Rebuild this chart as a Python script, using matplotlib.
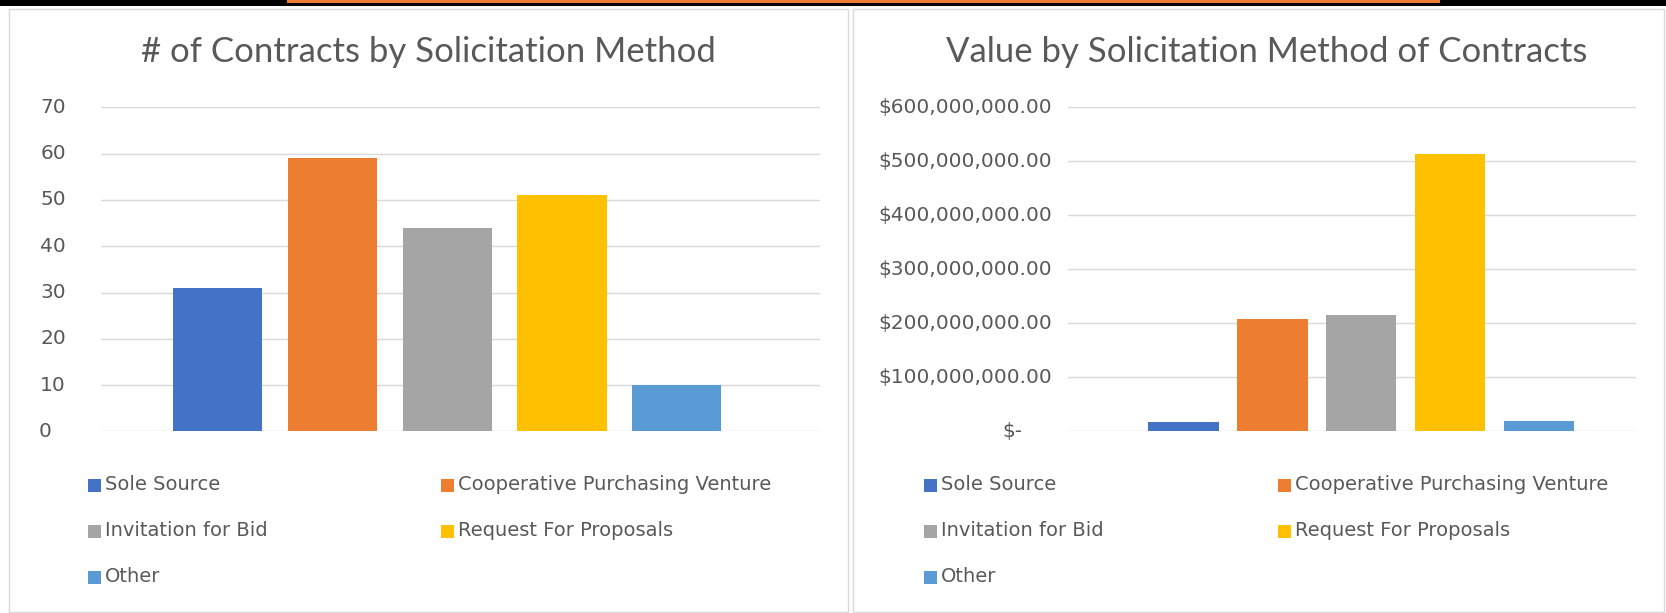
import matplotlib.pyplot as plt
from matplotlib.patches import Rectangle

# solicitation methods, shared by both charts
methods = ["Sole Source", "Cooperative Purchasing Venture", "Invitation for Bid",
           "Request For Proposals", "Other"]
contract_counts = [31, 59, 44, 51, 10]
contract_values = [17_500_000, 208_000_000, 216_000_000, 513_000_000, 19_500_000]
count_ticks = [0, 10, 20, 30, 40, 50, 60, 70]
value_ticks = [0, 100_000_000, 200_000_000, 300_000_000, 400_000_000, 500_000_000, 600_000_000]
colors = ["#4472C4", "#ED7D31", "#A5A5A5", "#FFC000", "#5B9BD5"]

W, H = 1666, 613
TEXT = "#595959"
GRID = "#D9D9D9"
TITLE_FONT = ["Lato", "DejaVu Sans"]
BODY_FONT = ["DejaVu Sans"]
plt.rcParams['font.family'] = BODY_FONT

AX_TOP, AX_BOTTOM = 107.3, 431.4


def fx(px):
    return px / W


def fy(py):
    return 1 - py / H


def fmt_money(v):
    if v == 0:
        return "$-"
    return f"${v:,.2f}"


fig = plt.figure(figsize=(W / 100, H / 100), dpi=100)

# top strip and panel borders
fig.add_artist(Rectangle((0, fy(6)), 1, 6 / H, transform=fig.transFigure,
                         color="black", lw=0))
fig.add_artist(Rectangle((fx(287), fy(2.5)), fx(1440 - 287), 2.5 / H,
                         transform=fig.transFigure, color="#ED7D31", lw=0))
for x0, x1 in [(8.5, 848), (853, 1664)]:
    fig.add_artist(Rectangle((fx(x0), fy(612)), fx(x1 - x0), (612 - 9) / H,
                             transform=fig.transFigure, fill=False,
                             edgecolor=GRID, lw=1))


def bar_panel(left, right, values, ticks, xlim, width, title, title_x,
              labels, label_right, zero_right, legend_x):
    ax = fig.add_axes([fx(left), fy(AX_BOTTOM), fx(right - left),
                       (AX_BOTTOM - AX_TOP) / H])
    xs = list(range(len(values)))
    ax.bar(xs, values, width=width, color=colors, zorder=3)
    ax.set_xlim(*xlim)
    ax.set_ylim(ticks[0], ticks[-1])
    for t in ticks:
        ax.axhline(t, color=GRID, lw=1, zorder=1)
    for s in ax.spines.values():
        s.set_visible(False)
    ax.set_xticks([])
    ax.set_yticks([])

    # y labels as figure text so the "$-" label can sit further left
    span = ticks[-1] - ticks[0]
    for t, lab in zip(ticks, labels):
        xr = zero_right if t == 0 else label_right
        ypx = AX_BOTTOM - (t - ticks[0]) / span * (AX_BOTTOM - AX_TOP)
        fig.text(fx(xr), fy(ypx), lab, ha="right", va="center",
                 fontsize=14.5, color=TEXT)

    fig.text(fx(title_x), fy(52), title, ha="center", va="center",
             fontsize=25, color=TEXT, family=TITLE_FONT)

    # legend, row-first in two columns
    rows = [485, 531, 577]
    for i, (m, c) in enumerate(zip(methods, colors)):
        r, col = divmod(i, 2)
        mx = legend_x[col]
        y = rows[r]
        fig.add_artist(Rectangle((fx(mx), fy(y + 6.5)), fx(13), 13 / H,
                                 transform=fig.transFigure, color=c, lw=0))
        fig.text(fx(mx + 17), fy(y), m, ha="left", va="center",
                 fontsize=14, color=TEXT)
    return ax


bar_panel(101, 820, contract_counts, count_ticks, (-1.018, 5.248), 0.778,
          "# of Contracts by Solicitation Method", 428,
          [str(t) for t in count_ticks], 66, 52, (88, 441))
bar_panel(1068, 1636, contract_values, value_ticks, (-1.30, 5.09), 0.79,
          "Value by Solicitation Method of Contracts", 1267,
          [fmt_money(t) for t in value_ticks], 1052, 1022, (924, 1278))

fig.savefig("out.png", dpi=100)
